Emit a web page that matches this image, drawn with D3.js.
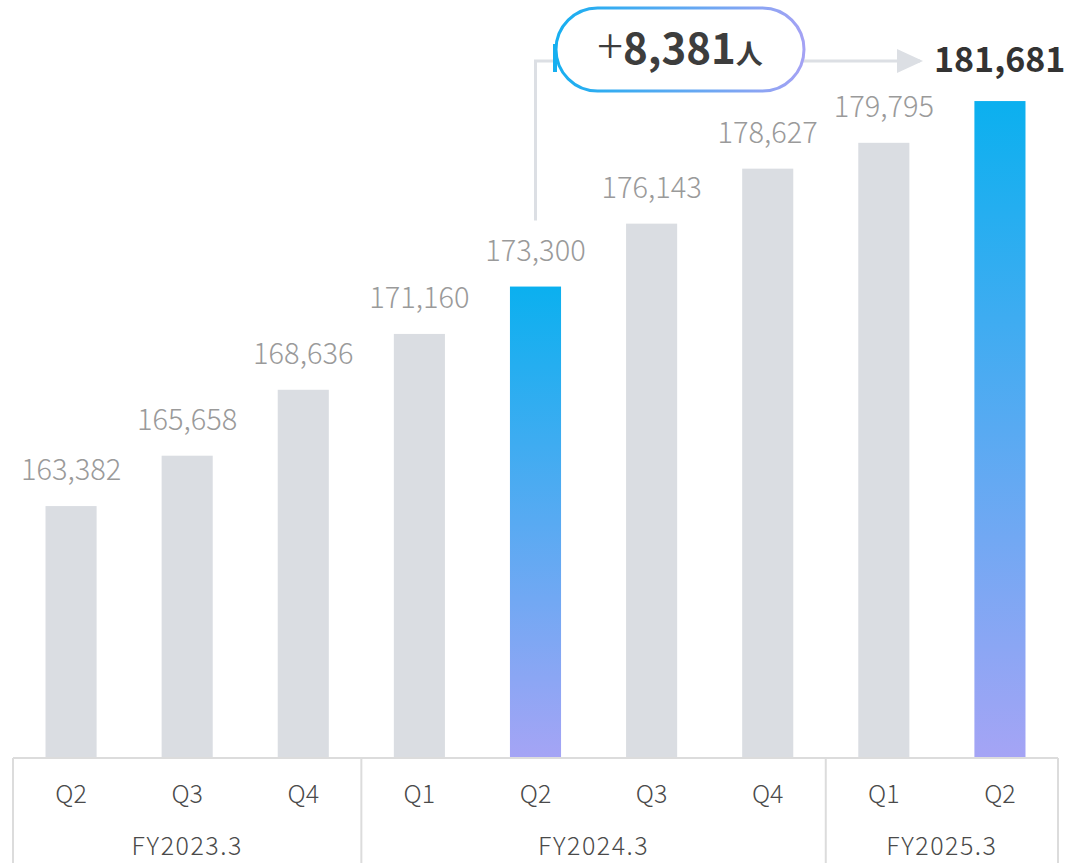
<!DOCTYPE html>
<html>
<head>
<meta charset="utf-8">
<script src="https://cdn.jsdelivr.net/npm/d3@7"></script>
<style>
  html, body { margin: 0; padding: 0; background: #fff; }
  svg { display: block; font-family: "Noto Sans CJK JP", "Noto Sans", sans-serif; }
</style>
</head>
<body>
<svg width="1066" height="863"></svg>
<script>
// chart data
var quarters = ["Q2", "Q3", "Q4", "Q1", "Q2", "Q3", "Q4", "Q1", "Q2"];
var fiscalYears = ["FY2023.3", "FY2023.3", "FY2023.3", "FY2024.3", "FY2024.3", "FY2024.3", "FY2024.3", "FY2025.3", "FY2025.3"];
var employees = [163382, 165658, 168636, 171160, 173300, 176143, 178627, 179795, 181681];
var highlighted = [4, 8];
var diffLabel = "8,381";

var svg = d3.select("svg");
var keys = d3.range(employees.length);

var x = d3.scaleBand().domain(keys).range([13, 1058]).paddingInner(0.56).paddingOuter(0.28);
var band = d3.scaleBand().domain(keys).range([13, 1058]);
var y = d3.scaleLinear().domain([152000, 182000]).range([758, 94]);

// gradients
var defs = svg.append("defs");
var grad = defs.append("linearGradient").attr("id", "barGrad")
    .attr("x1", 0).attr("y1", 0).attr("x2", 0).attr("y2", 1);
grad.append("stop").attr("offset", "0%").attr("stop-color", "#0bb0ef");
grad.append("stop").attr("offset", "100%").attr("stop-color", "#a5a4f5");

var pillGrad = defs.append("linearGradient").attr("id", "pillGrad")
    .attr("x1", 0).attr("y1", 0).attr("x2", 1).attr("y2", 0);
pillGrad.append("stop").attr("offset", "0%").attr("stop-color", "#16aff0");
pillGrad.append("stop").attr("offset", "100%").attr("stop-color", "#a4a2f4");

// bars
svg.append("g")
    .selectAll("rect")
    .data(keys)
    .enter()
    .append("rect")
    .attr("x", function(i) { return x(i); })
    .attr("y", function(i) { return y(employees[i]); })
    .attr("width", x.bandwidth())
    .attr("height", function(i) { return y.range()[0] - y(employees[i]); })
    .attr("fill", function(i) { return highlighted.indexOf(i) >= 0 ? "url(#barGrad)" : "#dadde2"; });

// value labels (last one is drawn bold at the top)
svg.append("g")
    .selectAll("text")
    .data(keys.slice(0, keys.length - 1))
    .enter()
    .append("text")
    .attr("x", function(i) { return x(i) + x.bandwidth() / 2; })
    .attr("y", function(i) { return y(employees[i]) - 26; })
    .attr("text-anchor", "middle")
    .attr("font-size", 29)
    .attr("font-weight", 300)
    .attr("fill", "#9a9a9a")
    .text(function(i) { return d3.format(",")(employees[i]); });

// category axis
var axisG = svg.append("g");
var left = band.range()[0], right = band.range()[1];
axisG.append("line")
    .attr("x1", left).attr("x2", right).attr("y1", 758).attr("y2", 758)
    .attr("stroke", "#dcdcdc").attr("stroke-width", 2);

var groups = d3.groups(keys, function(i) { return fiscalYears[i]; });
var edges = [left];
groups.forEach(function(g) { edges.push(band(g[1][g[1].length - 1]) + band.bandwidth()); });
axisG.selectAll("line.div")
    .data(edges)
    .enter()
    .append("line")
    .attr("class", "div")
    .attr("x1", function(d) { return d; }).attr("x2", function(d) { return d; })
    .attr("y1", 758).attr("y2", 863)
    .attr("stroke", "#dcdcdc").attr("stroke-width", 2);

axisG.selectAll("text.q")
    .data(keys)
    .enter()
    .append("text")
    .attr("class", "q")
    .attr("x", function(i) { return band(i) + band.bandwidth() / 2; })
    .attr("y", 803)
    .attr("text-anchor", "middle")
    .attr("font-size", 25)
    .attr("font-weight", 300)
    .attr("fill", "#4a4a4a")
    .text(function(i) { return quarters[i]; });

axisG.selectAll("text.fy")
    .data(groups)
    .enter()
    .append("text")
    .attr("class", "fy")
    .attr("x", function(g) {
        var a = band(g[1][0]), b = band(g[1][g[1].length - 1]) + band.bandwidth();
        return (a + b) / 2;
    })
    .attr("y", 855)
    .attr("text-anchor", "middle")
    .attr("font-size", 25)
    .attr("font-weight", 300)
    .attr("letter-spacing", 1.5)
    .attr("fill", "#4a4a4a")
    .text(function(g) { return g[0]; });

// growth annotation
var from = highlighted[0], to = highlighted[1];
var fx = x(from) + x.bandwidth() / 2;
var ty = 61;
var ann = svg.append("g");
ann.append("path")
    .attr("d", "M" + fx + "," + (y(employees[from]) - 66) + "V" + ty + "H920")
    .attr("fill", "none")
    .attr("stroke", "#dcdfe4")
    .attr("stroke-width", 3);
ann.append("path")
    .attr("d", "M897,49L923,61L897,73Z")
    .attr("fill", "#dcdfe4");

ann.append("rect")
    .attr("x", 553).attr("y", 44).attr("width", 4).attr("height", 28)
    .attr("fill", "#16aff0");
ann.append("rect")
    .attr("x", 556).attr("y", 8).attr("width", 248).attr("height", 83)
    .attr("rx", 41.5)
    .attr("fill", "#fff")
    .attr("stroke", "url(#pillGrad)")
    .attr("stroke-width", 3);

var pillText = ann.append("text")
    .attr("x", 680).attr("y", 64)
    .attr("text-anchor", "middle")
    .attr("fill", "#3d3d3d");
pillText.append("tspan").attr("font-size", 48).attr("font-weight", 300).text("+");
pillText.append("tspan").attr("font-size", 42).attr("font-weight", 700).text(diffLabel);
pillText.append("tspan").attr("font-size", 27).attr("font-weight", 700).text("人");

ann.append("text")
    .attr("x", 934).attr("y", 72)
    .attr("font-size", 34)
    .attr("font-weight", 700)
    .attr("fill", "#333")
    .text(d3.format(",")(employees[to]));
</script>
</body>
</html>
